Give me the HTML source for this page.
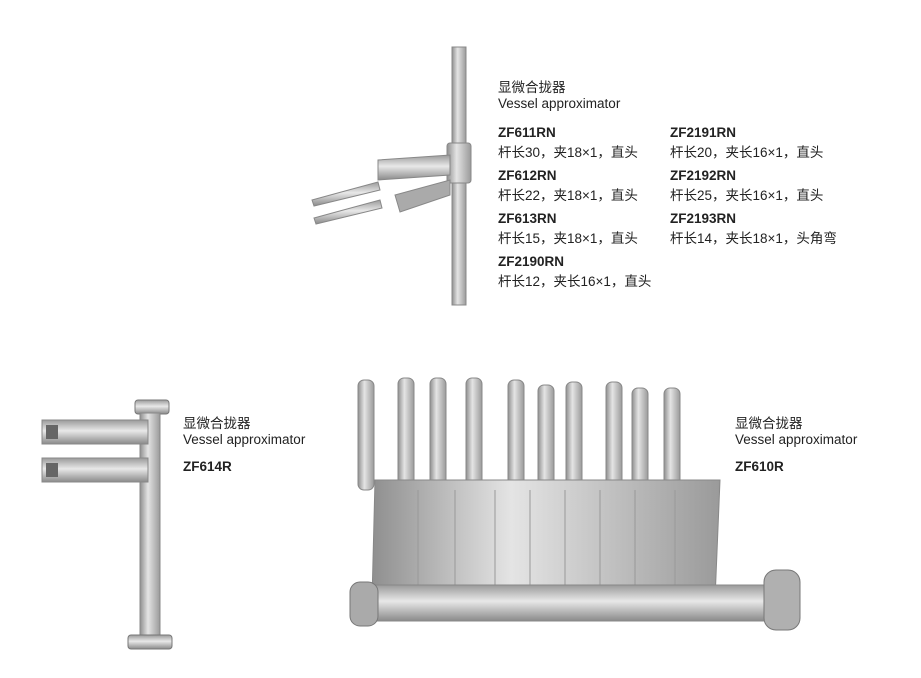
<!DOCTYPE html>
<html><head><meta charset="utf-8"><style>
body{margin:0;width:921px;height:678px;background:#fff;position:relative;overflow:hidden;font-family:"Liberation Sans","Noto Sans CJK SC",sans-serif;color:#222}
.t{position:absolute;font-size:13.5px;white-space:nowrap;line-height:16px}
.b{font-weight:bold;font-size:13.5px}
svg{position:absolute;left:0;top:0}
</style></head><body>
<svg width="921" height="678">
<defs>
<linearGradient id="m" x1="0" x2="1"><stop offset="0" stop-color="#8f8f8f"/><stop offset=".4" stop-color="#e4e4e4"/><stop offset="1" stop-color="#9a9a9a"/></linearGradient>
<linearGradient id="v" x1="0" x2="0" y1="0" y2="1"><stop offset="0" stop-color="#9a9a9a"/><stop offset=".45" stop-color="#e8e8e8"/><stop offset="1" stop-color="#8a8a8a"/></linearGradient>
</defs>
<!-- top instrument -->
<rect x="452" y="47" width="14" height="258" fill="url(#m)" stroke="#888"/>
<rect x="447" y="143" width="24" height="40" rx="3" fill="url(#m)" stroke="#888"/>
<polygon points="378,160 450,155 450,175 378,180" fill="url(#v)" stroke="#888"/>
<polygon points="312,200 378,182 380,190 314,206" fill="url(#v)" stroke="#888"/>
<polygon points="314,218 380,200 382,208 316,224" fill="url(#v)" stroke="#888"/>
<polygon points="395,195 450,180 450,195 400,212" fill="#aaa" stroke="#888"/>
<!-- left instrument -->
<rect x="135" y="400" width="34" height="14" rx="3" fill="url(#v)" stroke="#777"/>
<rect x="140" y="413" width="20" height="223" fill="url(#m)" stroke="#888"/>
<rect x="128" y="635" width="44" height="14" rx="3" fill="url(#v)" stroke="#777"/>
<rect x="42" y="420" width="106" height="24" fill="url(#v)" stroke="#888"/>
<rect x="42" y="458" width="106" height="24" fill="url(#v)" stroke="#888"/>
<rect x="46" y="425" width="12" height="14" fill="#666"/>
<rect x="46" y="463" width="12" height="14" fill="#666"/>
<!-- right instrument -->
<g fill="url(#m)" stroke="#888">
<rect x="358" y="380" width="16" height="110" rx="6"/>
<rect x="398" y="378" width="16" height="110" rx="6"/>
<rect x="430" y="378" width="16" height="110" rx="6"/>
<rect x="466" y="378" width="16" height="110" rx="6"/>
<rect x="508" y="380" width="16" height="110" rx="6"/>
<rect x="538" y="385" width="16" height="110" rx="6"/>
<rect x="566" y="382" width="16" height="110" rx="6"/>
<rect x="606" y="382" width="16" height="110" rx="6"/>
<rect x="632" y="388" width="16" height="110" rx="6"/>
<rect x="664" y="388" width="16" height="110" rx="6"/>
<polygon points="375,480 720,480 715,600 372,600"/>
</g>
<g stroke="#999" fill="none">
<path d="M418 490V595M455 490V595M495 490V595M530 490V595M565 490V595M600 490V595M635 490V595M675 490V595"/>
</g>
<rect x="360" y="585" width="420" height="36" rx="8" fill="url(#v)" stroke="#888"/>
<rect x="350" y="582" width="28" height="44" rx="10" fill="#aaa" stroke="#777"/>
<rect x="764" y="570" width="36" height="60" rx="12" fill="#b0b0b0" stroke="#777"/>
</svg>
<div class="t" style="left:498px;top:80px">显微合拢器</div>
<div class="t" style="left:498px;top:96px">Vessel approximator</div>
<div class="t b" style="left:498px;top:125px">ZF611RN</div>
<div class="t" style="left:498px;top:145px">杆长30，夹18×1，直头</div>
<div class="t b" style="left:498px;top:168px">ZF612RN</div>
<div class="t" style="left:498px;top:188px">杆长22，夹18×1，直头</div>
<div class="t b" style="left:498px;top:211px">ZF613RN</div>
<div class="t" style="left:498px;top:231px">杆长15，夹18×1，直头</div>
<div class="t b" style="left:498px;top:254px">ZF2190RN</div>
<div class="t" style="left:498px;top:274px">杆长12，夹长16×1，直头</div>
<div class="t b" style="left:670px;top:125px">ZF2191RN</div>
<div class="t" style="left:670px;top:145px">杆长20，夹长16×1，直头</div>
<div class="t b" style="left:670px;top:168px">ZF2192RN</div>
<div class="t" style="left:670px;top:188px">杆长25，夹长16×1，直头</div>
<div class="t b" style="left:670px;top:211px">ZF2193RN</div>
<div class="t" style="left:670px;top:231px">杆长14，夹长18×1，头角弯</div>
<div class="t" style="left:183px;top:416px">显微合拢器</div>
<div class="t" style="left:183px;top:432px">Vessel approximator</div>
<div class="t b" style="left:183px;top:459px">ZF614R</div>
<div class="t" style="left:735px;top:416px">显微合拢器</div>
<div class="t" style="left:735px;top:432px">Vessel approximator</div>
<div class="t b" style="left:735px;top:459px">ZF610R</div>
</body></html>
